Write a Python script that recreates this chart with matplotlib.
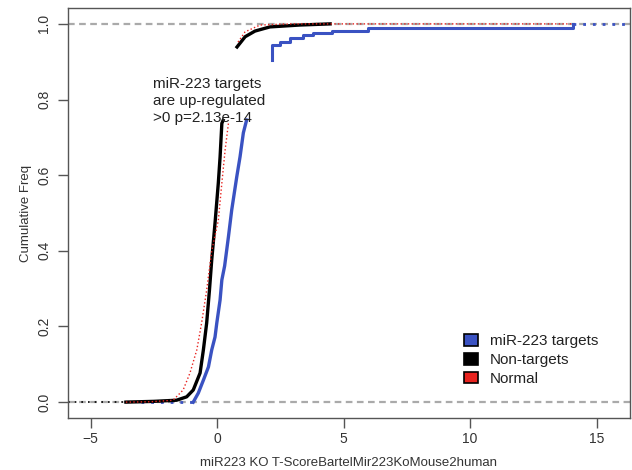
import numpy as np
import matplotlib.pyplot as plt
from matplotlib.patches import Patch

plt.rcParams['font.family'] = ['Liberation Sans', 'DejaVu Sans']

# cumulative frequencies (the part under the text is not drawn)
black_x_lo = [-3.6, -2.5, -1.6, -1.2, -0.94, -0.67, -0.54, -0.41, -0.30, -0.21, -0.08, 0.05, 0.12, 0.19, 0.24]
black_y_lo = [0.0, 0.002, 0.005, 0.014, 0.032, 0.077, 0.138, 0.209, 0.296, 0.376, 0.473, 0.579, 0.648, 0.737, 0.745]
black_x_hi = [0.79, 1.11, 1.50, 2.09, 3.28, 4.47]
black_y_hi = [0.939, 0.966, 0.981, 0.992, 0.997, 1.0]

red_x_lo = [-3.6, -2.6, -1.74, -1.34, -1.07, -0.80, -0.61, -0.41, -0.21, -0.08, 0.05, 0.19, 0.32, 0.45]
red_y_lo = [0.0, 0.001, 0.005, 0.032, 0.077, 0.138, 0.209, 0.296, 0.40, 0.44, 0.48, 0.579, 0.667, 0.737]
red_x_hi = [0.83, 1.11, 1.70, 2.90, 14.07]
red_y_hi = [0.952, 0.979, 0.997, 1.0, 1.0]

blue_x_lo = [-0.94, -0.74, -0.54, -0.34, -0.21, -0.08, -0.01, 0.12, 0.19, 0.30, 0.45, 0.58, 0.78, 0.91, 1.04, 1.17]
blue_y_lo = [0.0, 0.024, 0.058, 0.093, 0.138, 0.172, 0.209, 0.27, 0.323, 0.36, 0.437, 0.508, 0.596, 0.649, 0.712, 0.746]
blue_x_hi = [2.17, 2.17, 2.49, 2.89, 3.40, 3.79, 4.55, 5.97, 14.07]
blue_y_hi = [0.905, 0.944, 0.952, 0.963, 0.971, 0.976, 0.981, 0.989, 1.0]

legend_labels = ["miR-223 targets", "Non-targets", "Normal"]
note = "miR-223 targets\nare up-regulated\n>0 p=2.13e-14"

c_blue = '#3a52c2'
c_black = '#000000'
c_red = '#e8231f'

fig = plt.figure(figsize=(6.32, 4.70), dpi=100)
ax = fig.add_axes([68/632, 52/470, 562/632, 410/470])
xlim = (-5.89, 16.32)
ax.set_xlim(*xlim)
ax.set_ylim(-0.042, 1.042)

for h in (0, 1):
    ax.axhline(h, color='#aaaaaa', lw=1.6, ls=(0, (3, 2)), zorder=1)

# blue (targets)
ax.plot([-3.0, blue_x_lo[0]], [0, 0], color=c_blue, lw=2, ls=(0, (1, 2.5)), zorder=2)
ax.plot(blue_x_lo, blue_y_lo, color=c_blue, lw=2.4, zorder=3)
ax.plot(blue_x_hi, blue_y_hi, color=c_blue, lw=2.2, drawstyle='steps-post', zorder=3)
ax.plot([blue_x_hi[-1], xlim[1]], [1, 1], color=c_blue, lw=2, ls=(0, (1, 2.5)), zorder=2)

# black (non-targets)
ax.plot([xlim[0], black_x_lo[0]], [0, 0], color=c_black, lw=1.2, ls=(0, (1, 3)), zorder=2)
ax.plot(black_x_lo, black_y_lo, color=c_black, lw=2.4, zorder=4)
ax.plot(black_x_hi, black_y_hi, color=c_black, lw=2.4, zorder=4)

# red (normal)
ax.plot(red_x_lo, red_y_lo, color=c_red, lw=1.0, ls=':', zorder=5)
ax.plot(red_x_hi, red_y_hi, color=c_red, lw=1.0, ls=':', zorder=5)

ax.text(-2.53, 0.86, note, fontsize=11, color='#222222', va='top', ha='left',
        linespacing=1.28, zorder=6)

for s in ax.spines.values():
    s.set_color('#555555')
    s.set_linewidth(1.0)

ax.set_xticks([-5, 0, 5, 10, 15])
ax.set_yticks([0.0, 0.2, 0.4, 0.6, 0.8, 1.0])
ax.set_yticklabels(['0.0', '0.2', '0.4', '0.6', '0.8', '1.0'], rotation=90, va='center')
ax.tick_params(direction='out', length=7, width=1, color='#555555',
               labelsize=10, labelcolor='#333333')
ax.tick_params(axis='x', pad=3)
ax.tick_params(axis='y', pad=5)

ax.set_xlabel("miR223 KO T-ScoreBartelMir223KoMouse2human", fontsize=9.5, color='#333333', labelpad=8)
ax.set_ylabel("Cumulative Freq", fontsize=9.5, color='#333333', labelpad=4)

handles = [Patch(facecolor=c, edgecolor='black', linewidth=1.2) for c in (c_blue, c_black, c_red)]
ax.legend(handles, legend_labels, loc='lower right', bbox_to_anchor=(0.968, 0.045),
          frameon=False, fontsize=11, handlelength=0.9, handleheight=0.8,
          handletextpad=0.8, labelspacing=0.3, labelcolor='#222222')

fig.savefig('out.png', dpi=100)
